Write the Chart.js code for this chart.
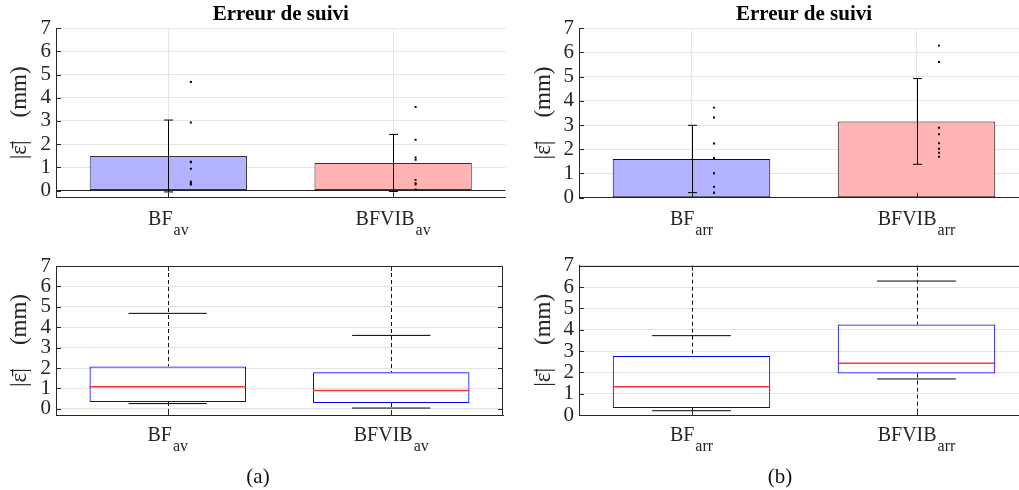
<!DOCTYPE html>
<html><head><meta charset="utf-8">
<script src="https://cdn.jsdelivr.net/npm/chart.js@4/dist/chart.umd.min.js"></script>
<style>
html,body{margin:0;padding:0;background:#fff;width:1019px;height:490px;overflow:hidden;position:relative;}
canvas{position:absolute;}
.cap{position:absolute;font-family:'Liberation Serif',serif;font-size:21px;color:#111;transform:translate(-50%,-50%);line-height:1;white-space:nowrap}
</style></head><body>
<canvas id="c1" width="510" height="245" style="left:0;top:0"></canvas>
<canvas id="c2" width="530" height="245" style="left:510px;top:0"></canvas>
<canvas id="c3" width="510" height="245" style="left:0;top:245px"></canvas>
<canvas id="c4" width="530" height="245" style="left:510px;top:245px"></canvas>
<div class="cap" style="left:258px;top:476px">(a)</div>
<div class="cap" style="left:780px;top:476px">(b)</div>
<script>
// ---- data ----
const categories = ['BF', 'BFVIB'];
const subAv = ['av', 'av'];
const subArr = ['arr', 'arr'];
const yTickValues = [0, 1, 2, 3, 4, 5, 6, 7];
const titleText = 'Erreur de suivi';
const yLabel = '|\u03B5\u0304|\u2003(mm)';

// top panels: mean bars, std error bars, individual values
const meanAv = [1.49, 1.19];
const stdAv = [1.55, 1.23];
const meanArr = [1.60, 3.15];
const stdArr = [1.39, 1.77];
const pointsAvBF = [0.26, 0.30, 0.38, 0.94, 1.22, 1.24, 2.93, 4.68];
const pointsAvBFVIB = [0.04, 0.26, 0.32, 0.46, 1.33, 1.42, 2.19, 3.60];
const pointsArrBF = [0.20, 0.21, 0.45, 1.01, 1.64, 2.24, 3.31, 3.72];
const pointsArrBFVIB = [1.69, 1.86, 2.02, 2.25, 2.62, 2.89, 5.60, 6.28];

// bottom panels: box plot statistics
const whiskLowAv = [0.26, 0.04];
const q1Av = [0.34, 0.29];
const medianAv = [1.08, 0.90];
const q3Av = [2.08, 1.80];
const whiskHighAv = [4.68, 3.60];
const whiskLowArr = [0.20, 1.69];
const q1Arr = [0.33, 1.94];
const medianArr = [1.33, 2.43];
const q3Arr = [2.77, 4.24];
const whiskHighArr = [3.72, 6.28];

const barColors = ['#b3b3ff', '#ffb3b3'];
const AXIS = '#262626', GRID = '#e4e4e4';
const FONT = "'Liberation Serif', 'Times New Roman', serif";

Chart.defaults.font.family = FONT;
Chart.defaults.color = AXIS;
Chart.defaults.animation = false;

function panel(id, cfg) {
  const xs = categories.map((c, i) => i + 1);
  const datasets = [];
  if (cfg.kind === 'bar') {
    datasets.push({type: 'bar', data: xs.map((x, i) => ({x, y: cfg.mean[i]})),
      backgroundColor: barColors, borderColor: cfg.barEdge, borderWidth: 1, borderSkipped: false,
      categoryPercentage: 1, barPercentage: 0.7, order: 2});
    datasets.push({type: 'scatter', data: cfg.points.flatMap((arr, i) => arr.map(v => ({x: xs[i] + 0.1, y: v}))),
      pointStyle: 'rect', pointRadius: 1.4, backgroundColor: '#000', borderWidth: 0, order: 0});
  } else {
    datasets.push({type: 'bar', data: xs.map((x, i) => ({x, y: [cfg.q1[i], cfg.q3[i]]})),
      backgroundColor: 'rgba(0,0,0,0)', borderColor: '#0000ff', borderWidth: 1, borderSkipped: false,
      categoryPercentage: 1, barPercentage: 0.7});
  }

  const line = (ctx, x1, y1, x2, y2) => { ctx.beginPath(); ctx.moveTo(x1, y1); ctx.lineTo(x2, y2); ctx.stroke(); };

  const deco = {
    id: 'deco',
    beforeDatasetsDraw(chart) {
      if (cfg.kind !== 'box') return;
      const {ctx, chartArea: a, scales: {x, y}} = chart;
      ctx.save(); ctx.strokeStyle = '#111'; ctx.lineWidth = 1; ctx.setLineDash([4, 3]);
      xs.forEach((v, i) => {
        const px = Math.round(x.getPixelForValue(v)) + 0.5;
        line(ctx, px, a.top, px, y.getPixelForValue(cfg.q3[i]));
        line(ctx, px, y.getPixelForValue(cfg.q1[i]), px, a.bottom);
      });
      ctx.restore();
    },
    afterDatasetsDraw(chart) {
      const {ctx, scales: {x, y}} = chart;
      ctx.save(); ctx.lineWidth = 1;
      if (cfg.kind === 'bar') {
        ctx.strokeStyle = '#000';
        xs.forEach((v, i) => {
          const px = Math.round(x.getPixelForValue(v)) + 0.5;
          const yt = y.getPixelForValue(cfg.mean[i] + cfg.std[i]);
          const yb = y.getPixelForValue(cfg.mean[i] - cfg.std[i]);
          line(ctx, px, yt, px, yb);
          line(ctx, px - 4.5, yt, px + 4.5, yt);
          line(ctx, px - 4.5, yb, px + 4.5, yb);
        });
      } else {
        xs.forEach((v, i) => {
          const l = x.getPixelForValue(v - 0.35), r = x.getPixelForValue(v + 0.35);
          const cl = x.getPixelForValue(v - 0.175), cr = x.getPixelForValue(v + 0.175);
          ctx.strokeStyle = '#000';
          line(ctx, cl, y.getPixelForValue(cfg.wHigh[i]), cr, y.getPixelForValue(cfg.wHigh[i]));
          line(ctx, cl, y.getPixelForValue(cfg.wLow[i]), cr, y.getPixelForValue(cfg.wLow[i]));
          ctx.strokeStyle = '#ff3030'; ctx.lineWidth = 1.5;
          line(ctx, l, y.getPixelForValue(cfg.median[i]), r, y.getPixelForValue(cfg.median[i]));
          ctx.lineWidth = 1;
        });
      }
      ctx.restore();
    },
    afterDraw(chart) {
      const {ctx, chartArea: a, scales: {x, y}} = chart;
      ctx.save(); ctx.strokeStyle = AXIS; ctx.lineWidth = 1;
      // tick marks (inside)
      yTickValues.forEach(v => {
        const py = Math.round(y.getPixelForValue(v)) + 0.5;
        line(ctx, a.left, py, a.left + 5, py);
        if (cfg.frame) line(ctx, a.right, py, a.right - 5, py);
      });
      xs.forEach(v => {
        const px = Math.round(x.getPixelForValue(v)) + 0.5;
        line(ctx, px, a.bottom, px, a.bottom - 5);
        if (cfg.frame) line(ctx, px, a.top, px, a.top + 5);
      });
      if (cfg.frame) {
        line(ctx, a.left, Math.round(a.top) + 0.5, a.right, Math.round(a.top) + 0.5);
        line(ctx, Math.round(a.right) - 0.5, a.top, Math.round(a.right) - 0.5, a.bottom);
      }
      // x labels with subscripts
      ctx.fillStyle = AXIS; ctx.textBaseline = 'alphabetic'; ctx.textAlign = 'left';
      categories.forEach((c, i) => {
        ctx.font = '20px ' + FONT; const w1 = ctx.measureText(c).width;
        ctx.font = '16px ' + FONT; const w2 = ctx.measureText(cfg.subs[i]).width;
        const cx = x.getPixelForValue(xs[i]);
        const sx = cx - (w1 + 1 + w2) / 2;
        const by = a.bottom + cfg.labelGap;
        ctx.font = '20px ' + FONT; ctx.fillText(c, sx, by);
        ctx.font = '16px ' + FONT; ctx.fillText(cfg.subs[i], sx + w1 + 1, by + 9.5);
      });
      ctx.restore();
    }
  };

  return new Chart(document.getElementById(id), {
    type: 'bar',
    data: {datasets},
    plugins: [deco],
    options: {
      responsive: false, animation: false, events: [],
      layout: {padding: {top: cfg.padTop, right: cfg.padRight, left: 0, bottom: 0}},
      plugins: {
        legend: {display: false}, tooltip: {enabled: false},
        title: {display: cfg.kind === 'bar', text: titleText, fullSize: false, color: '#000',
          font: {family: FONT, size: 21, weight: 'bold'}, padding: {top: 2, bottom: 1}}
      },
      scales: {
        x: {type: 'linear', min: 0.5, max: 2.5, offset: false,
          afterBuildTicks: s => { s.ticks = xs.map(v => ({value: v})); },
          afterFit: s => { s.height = cfg.xh; },
          ticks: {display: false},
          grid: {display: cfg.kind === 'bar', offset: false, color: GRID, drawTicks: false},
          border: {display: true, color: AXIS, width: 1}},
        y: {type: 'linear', min: cfg.ymin, max: 7, beginAtZero: false,
          afterBuildTicks: s => { s.ticks = yTickValues.map(v => ({value: v})); },
          afterFit: s => { s.width = cfg.yw; },
          ticks: {font: {family: FONT, size: 21}, color: AXIS, padding: 5, autoSkip: false},
          grid: {color: c => (cfg.zeroLine && c.tick && c.tick.value === 0) ? AXIS : GRID, drawTicks: false},
          border: {display: true, color: AXIS, width: 1},
          title: {display: true, text: yLabel, color: AXIS, font: {family: FONT, size: 23},
            padding: {top: cfg.yTitlePad, bottom: 0}}}
      }
    }
  });
}

panel('c1', {kind: 'bar', mean: meanAv, std: stdAv, points: [pointsAvBF, pointsAvBFVIB], subs: subAv,
  ymin: -0.3, zeroLine: true, barEdge: '#333333', yw: 56, xh: 47.5, padTop: 0, padRight: 4.5, yTitlePad: 6, labelGap: 27.5});
panel('c2', {kind: 'bar', mean: meanArr, std: stdArr, points: [pointsArrBF, pointsArrBFVIB], subs: subArr,
  ymin: 0, zeroLine: false, barEdge: '#111111', yw: 69, xh: 47.3, padTop: 0, padRight: 11, yTitlePad: 20, labelGap: 27.5});
panel('c3', {kind: 'box', q1: q1Av, q3: q3Av, median: medianAv, wLow: whiskLowAv, wHigh: whiskHighAv, subs: subAv,
  ymin: -0.3, frame: true, yw: 56, xh: 75, padTop: 21, padRight: 7, yTitlePad: 6, labelGap: 26});
panel('c4', {kind: 'box', q1: q1Arr, q3: q3Arr, median: medianArr, wLow: whiskLowArr, wHigh: whiskHighArr, subs: subArr,
  ymin: 0, frame: true, yw: 69, xh: 75, padTop: 20.7, padRight: 11, yTitlePad: 20, labelGap: 26});
</script>
</body></html>
